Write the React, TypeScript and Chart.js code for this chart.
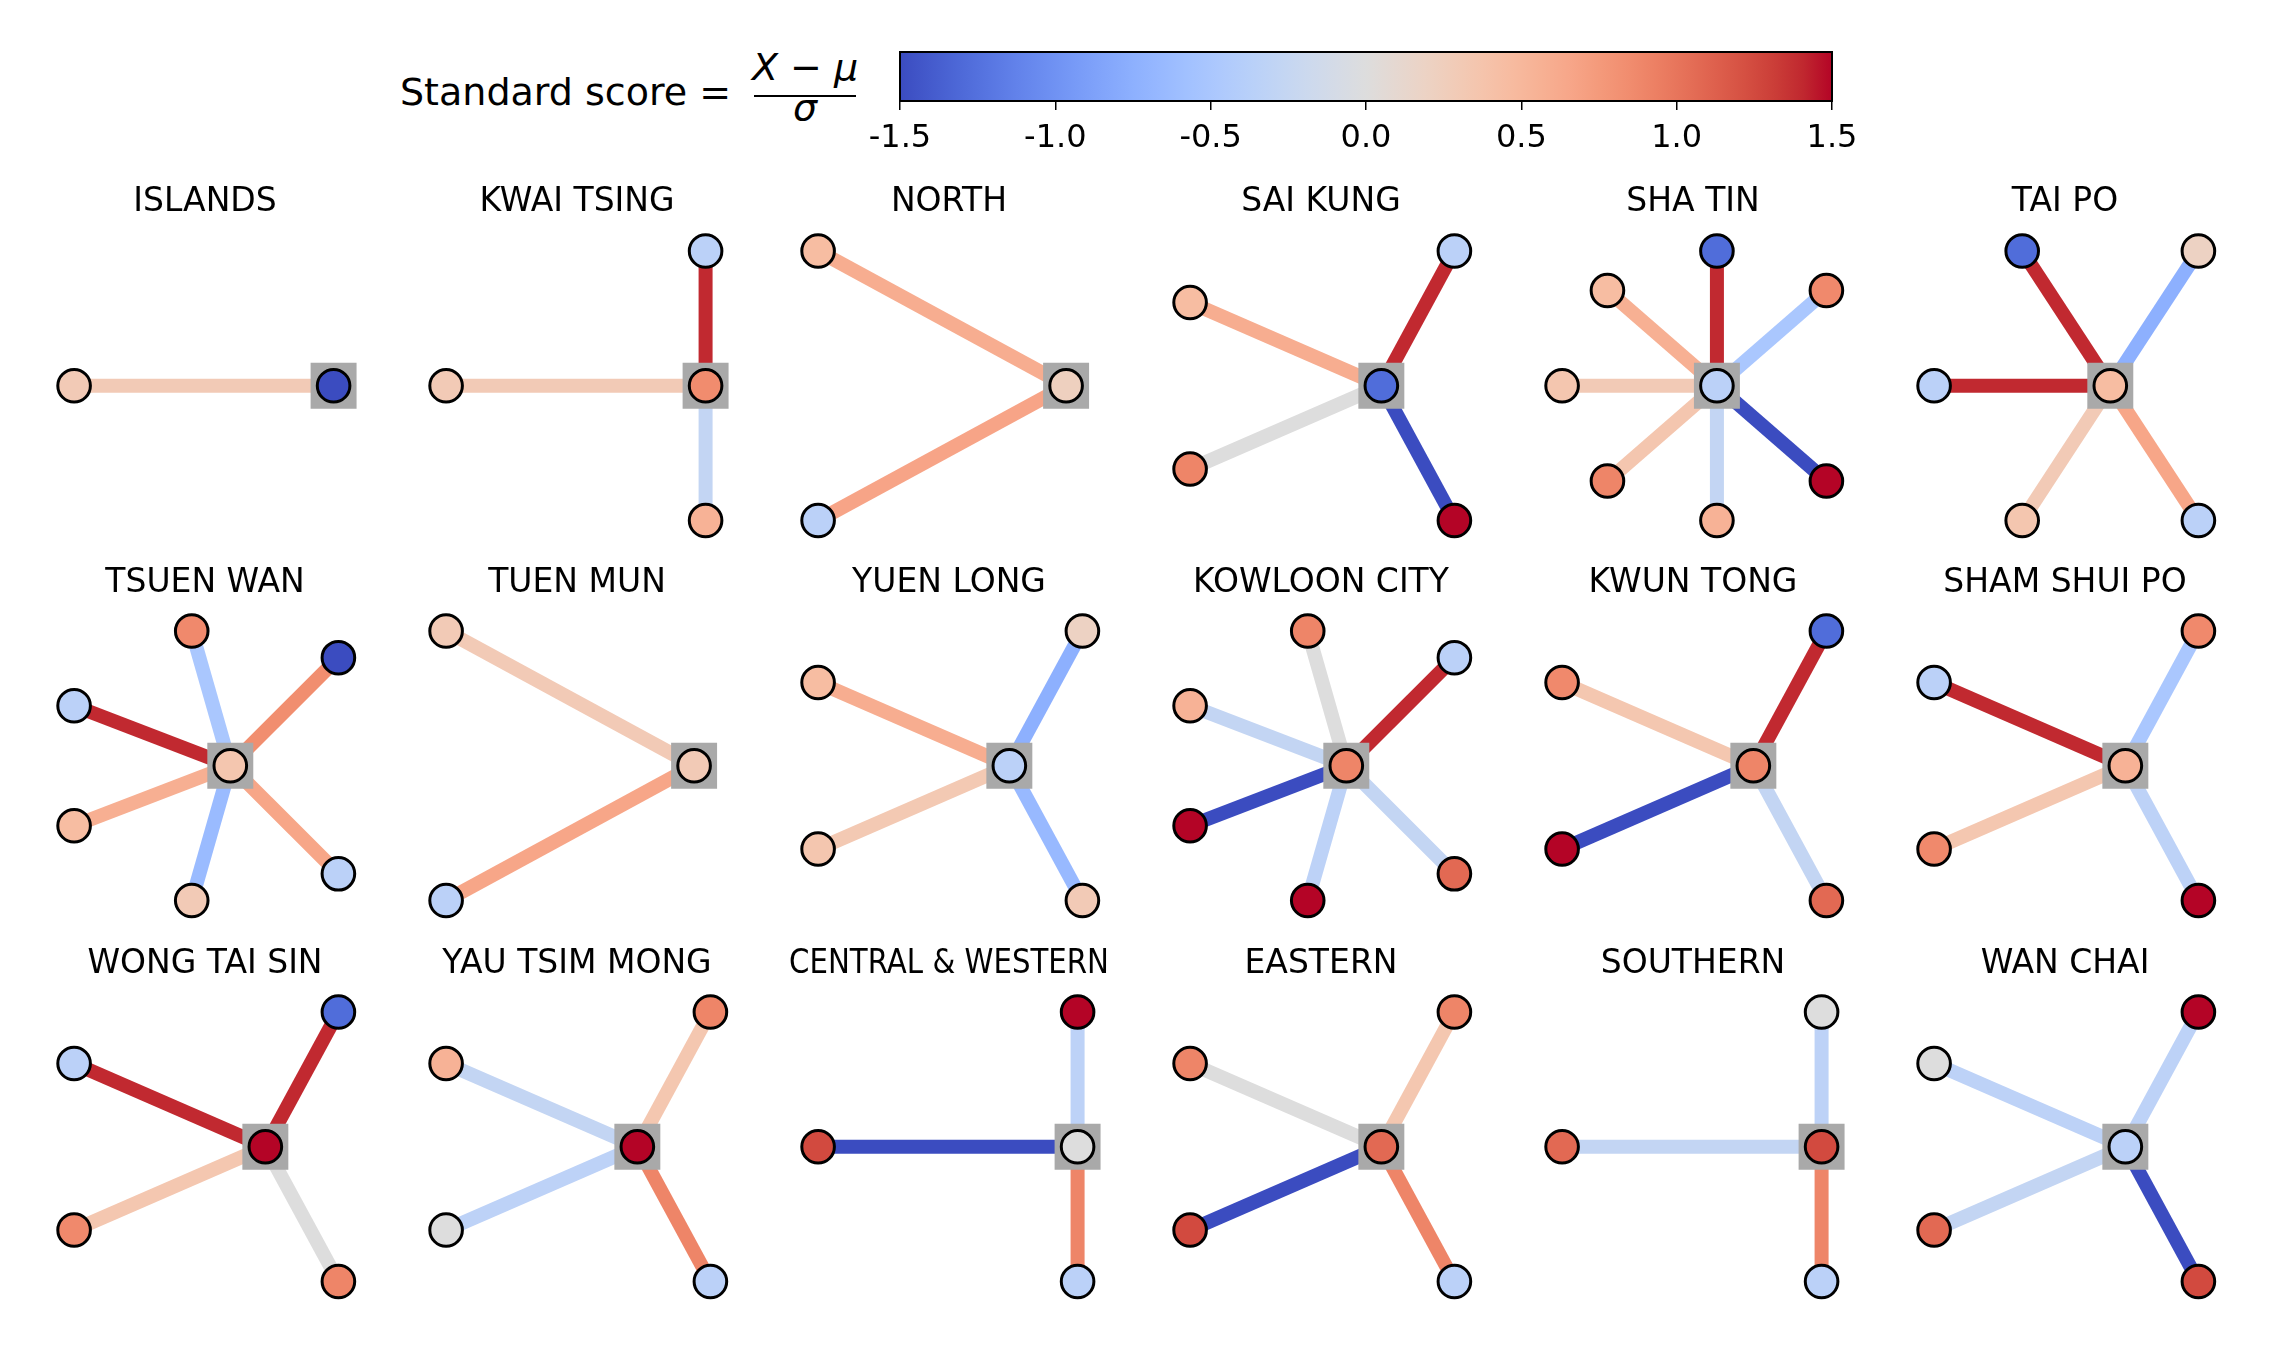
import React, { useEffect, useRef } from "react";
import { Chart, registerables } from "chart.js";

Chart.register(...registerables);
Chart.defaults.font.family = "'DejaVu Sans', sans-serif";

// ---------------- data ----------------
const districts = [
  "ISLANDS", "KWAI TSING", "NORTH", "SAI KUNG", "SHA TIN", "TAI PO",
  "TSUEN WAN", "TUEN MUN", "YUEN LONG", "KOWLOON CITY", "KWUN TONG", "SHAM SHUI PO",
  "WONG TAI SIN", "YAU TSIM MONG", "CENTRAL & WESTERN", "EASTERN", "SOUTHERN", "WAN CHAI",
];

// standard score of the district itself (centre node)
const centerScores = [
  -1.5, 0.85, 0.23, -1.28, -0.35, 0.45,
  0.35, 0.3, -0.35, 0.9, 0.9, 0.55,
  1.5, 1.5, 0.0, 1.07, 1.25, -0.35,
];

// neighbour node scores, counter-clockwise starting just after "east"
const neighborScores = [
  [0.3],
  [-0.35, 0.3, 0.55],
  [0.45, -0.35],
  [-0.35, 0.45, 0.9, 1.5],
  [0.87, -1.28, 0.45, 0.35, 0.9, 0.55, 1.5],
  [0.2, -1.28, -0.35, 0.35, -0.35],
  [-1.5, 0.87, -0.35, 0.45, 0.3, -0.35],
  [0.3, -0.35],
  [0.2, 0.45, 0.35, 0.3],
  [-0.35, 0.9, 0.55, 1.5, 1.5, 1.07],
  [-1.28, 0.87, 1.5, 1.07],
  [0.87, -0.35, 0.87, 1.5],
  [-1.28, -0.35, 0.87, 0.9],
  [0.9, 0.55, 0.0, -0.35],
  [1.5, 1.25, -0.35],
  [0.9, 0.9, 1.25, -0.35],
  [0.0, 1.07, -0.35],
  [1.5, 0.0, 1.07, 1.25],
];

// edge scores (same order as neighbours)
const edgeScores = [
  [0.3],
  [1.4, 0.3, -0.27],
  [0.6, 0.67],
  [1.4, 0.6, 0.0, -1.5],
  [-0.5, 1.4, 0.57, 0.3, 0.35, -0.27, -1.5],
  [-0.75, 1.4, 1.4, 0.3, 0.66],
  [0.84, -0.5, 1.4, 0.58, -0.64, 0.66],
  [0.3, 0.66],
  [-0.75, 0.6, 0.32, -0.66],
  [1.4, 0.0, -0.27, -1.5, -0.33, -0.27],
  [1.4, 0.34, -1.5, -0.27],
  [-0.5, 1.4, 0.34, -0.33],
  [1.4, 1.4, 0.34, 0.0],
  [0.34, -0.27, -0.33, 0.9],
  [-0.33, -1.5, 0.9],
  [0.34, 0.0, -1.5, 0.9],
  [-0.33, -0.27, 0.9],
  [-0.33, -0.33, -0.27, -1.5],
];

const colorbarTicks = [-1.5, -1.0, -0.5, 0.0, 0.5, 1.0, 1.5];
const scoreMin = -1.5;
const scoreMax = 1.5;

// ---------------- colormap (coolwarm) ----------------
const COOLWARM: number[][] = [
  [59, 76, 192], [68, 90, 204], [77, 104, 215], [87, 117, 225], [98, 130, 234],
  [108, 142, 241], [119, 154, 247], [130, 165, 251], [141, 176, 254], [152, 185, 255],
  [163, 194, 255], [174, 201, 253], [184, 208, 249], [194, 213, 244], [204, 217, 238],
  [213, 219, 230], [221, 221, 221], [229, 216, 209], [236, 211, 197], [241, 204, 184],
  [245, 196, 172], [247, 187, 160], [247, 177, 148], [247, 166, 137], [244, 154, 123],
  [241, 141, 111], [236, 127, 99], [229, 112, 88], [222, 96, 77], [213, 80, 66],
  [203, 62, 56], [192, 40, 47], [180, 4, 38],
];

function coolwarm(v: number): string {
  let t = (v - scoreMin) / (scoreMax - scoreMin);
  t = Math.max(0, Math.min(1, t));
  const f = t * (COOLWARM.length - 1);
  const i = Math.min(COOLWARM.length - 2, Math.floor(f));
  const u = f - i;
  const a = COOLWARM[i], b = COOLWARM[i + 1];
  const c = a.map((av, k) => Math.round(av + (b[k] - av) * u));
  return `rgb(${c[0]},${c[1]},${c[2]})`;
}

// ---------------- layout constants ----------------
const COL0 = 73.6;
const COL_STEP = 372;
const TITLE_CX0 = 204.5;
const ROW_NODE_TOP = [251, 631, 1012];
const ROW_TITLE_Y = [202, 583, 964];
const NODE_H = 269.5;
const CANVAS_W = 320;
const CANVAS_H = 392;
const TITLE_FONT = 33;
const TITLE_PAD_TOP = 40 - (TITLE_FONT * 1.2) / 2;
const TITLE_BLOCK = 62;
const TITLE_PAD_BOTTOM = TITLE_BLOCK - TITLE_PAD_TOP - TITLE_FONT * 1.2;

const clean = (v: number) => (Math.abs(v) < 1e-12 ? 0 : v);

function Panel({ index }: { index: number }) {
  const ref = useRef<HTMLCanvasElement | null>(null);
  const row = Math.floor(index / 6);
  const col = index % 6;
  const canvasLeft = TITLE_CX0 + COL_STEP * col - CANVAS_W / 2;
  const canvasTop = ROW_TITLE_Y[row] - 40;

  useEffect(() => {
    if (!ref.current) return;
    const nb = neighborScores[index];
    const ed = edgeScores[index];
    const n = nb.length;
    // circular layout: neighbours evenly spaced, centre at origin
    const pos = nb.map((_, k) => {
      const a = (2 * Math.PI * (k + 1)) / (n + 1);
      return { x: clean(Math.cos(a)), y: clean(Math.sin(a)) };
    });
    const xs = [0, ...pos.map((p) => p.x)];
    const ys = [0, ...pos.map((p) => p.y)];
    const xmin = Math.min(...xs);
    const xmax = Math.max(...xs);
    let ymin = Math.min(...ys);
    let ymax = Math.max(...ys);
    if (ymax - ymin < 1e-9) {
      ymin = -1;
      ymax = 1;
    }
    const r = xmax - xmin;
    const W = xmax < 1e-9 ? (272.1 * r) / (r + 0.0486) : 264.3;
    const sx = r / W;
    const nodeLeft = COL0 + COL_STEP * col;
    const xMinS = xmin - (nodeLeft - canvasLeft) * sx;
    const xMaxS = xMinS + CANVAS_W * sx;
    const areaTop = canvasTop + TITLE_BLOCK;
    const sy = (ymax - ymin) / NODE_H;
    const yMaxS = ymax + (ROW_NODE_TOP[row] - areaTop) * sy;
    const yMinS = yMaxS - (CANVAS_H - TITLE_BLOCK) * sy;

    const edgeSets = pos.map((p, k) => ({
      data: [{ x: 0, y: 0 }, p],
      showLine: true,
      borderColor: coolwarm(ed[k]),
      borderWidth: 14,
      borderCapStyle: "butt" as const,
      pointRadius: 0,
      pointHoverRadius: 0,
      order: 3,
      clip: false as const,
    }));

    const chart = new Chart(ref.current, {
      type: "scatter",
      data: {
        datasets: [
          ...edgeSets,
          {
            data: [{ x: 0, y: 0 }],
            pointStyle: "rect",
            pointRadius: 32.5,
            pointHoverRadius: 32.5,
            pointBackgroundColor: "#a9a9a9",
            pointBorderWidth: 0,
            order: 2,
            clip: false as const,
          },
          {
            data: [{ x: 0, y: 0 }, ...pos],
            pointStyle: "circle",
            pointRadius: 16.3,
            pointHoverRadius: 16.3,
            pointBackgroundColor: [coolwarm(centerScores[index]), ...nb.map(coolwarm)],
            pointBorderColor: "#000",
            pointBorderWidth: 3,
            order: 1,
            clip: false as const,
          },
        ] as any,
      },
      options: {
        animation: false,
        responsive: true,
        maintainAspectRatio: false,
        events: [],
        layout: { padding: 0, autoPadding: false },
        plugins: {
          legend: { display: false },
          tooltip: { enabled: false },
          title: {
            display: true,
            text: districts[index],
            color: "#000",
            font: { size: TITLE_FONT, weight: "normal", family: "'DejaVu Sans', sans-serif" },
            padding: { top: TITLE_PAD_TOP, bottom: TITLE_PAD_BOTTOM },
          },
        },
        scales: {
          x: { type: "linear", display: false, bounds: "data", min: xMinS, max: xMaxS },
          y: { type: "linear", display: false, bounds: "data", min: yMinS, max: yMaxS },
        },
      },
    });
    return () => chart.destroy();
  }, [index]);

  return (
    <div
      style={{
        position: "absolute",
        left: canvasLeft,
        top: canvasTop,
        width: CANVAS_W,
        height: CANVAS_H,
      }}
    >
      <canvas ref={ref} />
    </div>
  );
}

const CB_PAD = 50;
const CB_LEFT = 900;
const CB_WIDTH = 932;

function Colorbar() {
  const ref = useRef<HTMLCanvasElement | null>(null);
  useEffect(() => {
    if (!ref.current) return;
    const gradientPlugin = {
      id: "cbarGradient",
      beforeDatasetsDraw(chart: any) {
        const { ctx, chartArea: a, scales } = chart;
        const x0 = scales.x.getPixelForValue(scoreMin);
        const x1 = scales.x.getPixelForValue(scoreMax);
        const g = ctx.createLinearGradient(x0, 0, x1, 0);
        COOLWARM.forEach((c, i) => g.addColorStop(i / (COOLWARM.length - 1), `rgb(${c[0]},${c[1]},${c[2]})`));
        ctx.save();
        ctx.fillStyle = g;
        ctx.fillRect(x0, a.top, x1 - x0, a.bottom - a.top);
        ctx.restore();
      },
      afterDraw(chart: any) {
        const { ctx, chartArea: a } = chart;
        ctx.save();
        ctx.strokeStyle = "#000";
        ctx.lineWidth = 2;
        ctx.strokeRect(a.left, a.top, a.right - a.left, a.bottom - a.top);
        ctx.restore();
      },
    };
    const chart = new Chart(ref.current, {
      type: "scatter",
      data: { datasets: [{ data: [] }] },
      options: {
        animation: false,
        responsive: true,
        maintainAspectRatio: false,
        events: [],
        layout: { padding: { left: CB_PAD, right: CB_PAD, top: 10, bottom: 0 }, autoPadding: false },
        plugins: { legend: { display: false }, tooltip: { enabled: false } },
        scales: {
          x: {
            type: "linear",
            min: scoreMin,
            max: scoreMax,
            bounds: "data",
            afterBuildTicks: (scale: any) => {
              scale.ticks = colorbarTicks.map((v) => ({ value: v }));
            },
            afterFit: (scale: any) => {
              scale.height = 61;
              scale.paddingLeft = 0;
              scale.paddingRight = 0;
            },
            ticks: {
              color: "#000",
              font: { size: 32 },
              padding: 9,
              maxRotation: 0,
              autoSkip: false,
              callback: (v: any) => Number(v).toFixed(1),
            },
            grid: {
              drawOnChartArea: false,
              drawTicks: true,
              tickLength: 9,
              color: "#000",
              lineWidth: 1.5,
            },
            border: { display: false },
          },
          y: { type: "linear", display: false, min: 0, max: 1 },
        },
      },
      plugins: [gradientPlugin],
    });
    return () => chart.destroy();
  }, []);
  return (
    <div
      style={{
        position: "absolute",
        left: CB_LEFT - CB_PAD,
        top: 42,
        width: CB_WIDTH + 2 * CB_PAD,
        height: 120,
      }}
    >
      <canvas ref={ref} />
    </div>
  );
}

function FormulaLabel() {
  const base: React.CSSProperties = {
    position: "absolute",
    fontFamily: "'DejaVu Sans', sans-serif",
    fontSize: 38,
    lineHeight: "38px",
    whiteSpace: "nowrap",
    color: "#000",
  };
  return (
    <>
      <div style={{ ...base, left: 400, top: 73 }}>Standard score =</div>
      <div style={{ ...base, left: 750, top: 48, width: 110, textAlign: "center", fontStyle: "italic" }}>
        X<span style={{ fontStyle: "normal" }}> − </span>μ
      </div>
      <div style={{ position: "absolute", left: 754, top: 95, width: 102, height: 2, background: "#000" }} />
      <div style={{ ...base, left: 750, top: 88, width: 110, textAlign: "center", fontStyle: "italic" }}>σ</div>
    </>
  );
}

export default function App() {
  return (
    <div
      style={{
        position: "absolute",
        left: 0,
        top: 0,
        width: 2270,
        height: 1355,
        background: "#fff",
        overflow: "hidden",
      }}
    >
      <FormulaLabel />
      <Colorbar />
      {districts.map((d, i) => (
        <Panel key={d} index={i} />
      ))}
    </div>
  );
}
